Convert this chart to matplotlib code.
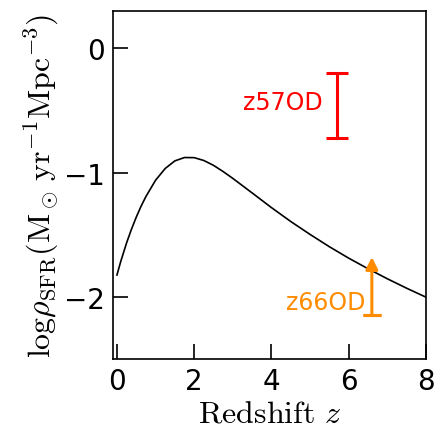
import matplotlib.pyplot as plt

plt.rcParams.update({
    "font.family": "DejaVu Sans",
    "mathtext.fontset": "cm",
    "axes.linewidth": 1.2,
})

# cosmic SFR density curve
z_curve = [0.0, 0.1, 0.25, 0.375, 0.5, 0.625, 0.75, 1.0, 1.25, 1.5, 1.75, 2.0,
           2.25, 2.5, 2.75, 3.0, 3.5, 4.0, 4.5, 5.0, 5.5, 6.0, 6.5, 7.0, 7.5,
           8.0]
sfr_curve = [-1.825, -1.714, -1.566, -1.457, -1.359, -1.271, -1.193, -1.062,
             -0.967, -0.906, -0.879, -0.880, -0.903, -0.942, -0.992, -1.047,
             -1.164, -1.282, -1.394, -1.498, -1.597, -1.689, -1.774, -1.855,
             -1.931, -2.003]

# z57OD: range
z57_z = 5.7
z57_lo = -0.72
z57_hi = -0.20

# z66OD: lower limit
z66_z = 6.6
z66_lo = -2.15
z66_arrow_top = -1.68

C_RED = "#ff0000"
C_ORANGE = "#ff8c00"

fig = plt.figure(figsize=(4.4, 4.31), dpi=100)
ax = fig.add_axes([0.257, 0.165, 0.711, 0.807])

ax.plot(z_curve, sfr_curve, color="black", lw=1.2, zorder=2)

ax.errorbar([z57_z], [(z57_lo + z57_hi) / 2], yerr=[(z57_hi - z57_lo) / 2],
            fmt="none", ecolor=C_RED, elinewidth=2.2, capsize=7.8, capthick=2.2,
            zorder=3)
ax.text(z57_z - 0.38, (z57_lo + z57_hi) / 2 + 0.03, "z57OD", color=C_RED,
        fontsize=17, ha="right", va="center")

ax.errorbar([z66_z], [z66_lo], yerr=[[0], [0.0]], fmt="none", ecolor=C_ORANGE,
            elinewidth=2.2, capsize=6.5, capthick=2.2, zorder=3)
ax.annotate("", xy=(z66_z, z66_arrow_top), xytext=(z66_z, z66_lo),
            arrowprops=dict(arrowstyle="-|>", color=C_ORANGE, lw=2.2,
                            mutation_scale=18, shrinkA=0, shrinkB=0),
            zorder=3)
ax.text(z66_z - 0.17, z66_lo + 0.11, "z66OD", color=C_ORANGE,
        fontsize=17, ha="right", va="center")

ax.set_xlim(-0.1, 8.0)
ax.set_ylim(-2.5, 0.3)
ax.set_xticks([0, 2, 4, 6, 8])
ax.set_yticks([-2, -1, 0])
ax.tick_params(direction="in", length=11, width=1.2, labelsize=20, pad=6)

ax.set_xlabel(r"$\mathrm{Redshift}\ z$", fontsize=23, labelpad=2)
ax.set_ylabel(r"$\rm log\rho_{\rm SFR}(\rm M_\odot\,yr^{-1}Mpc^{-3})$",
              fontsize=23, labelpad=2)

fig.savefig("out.png", dpi=100, facecolor="white")
